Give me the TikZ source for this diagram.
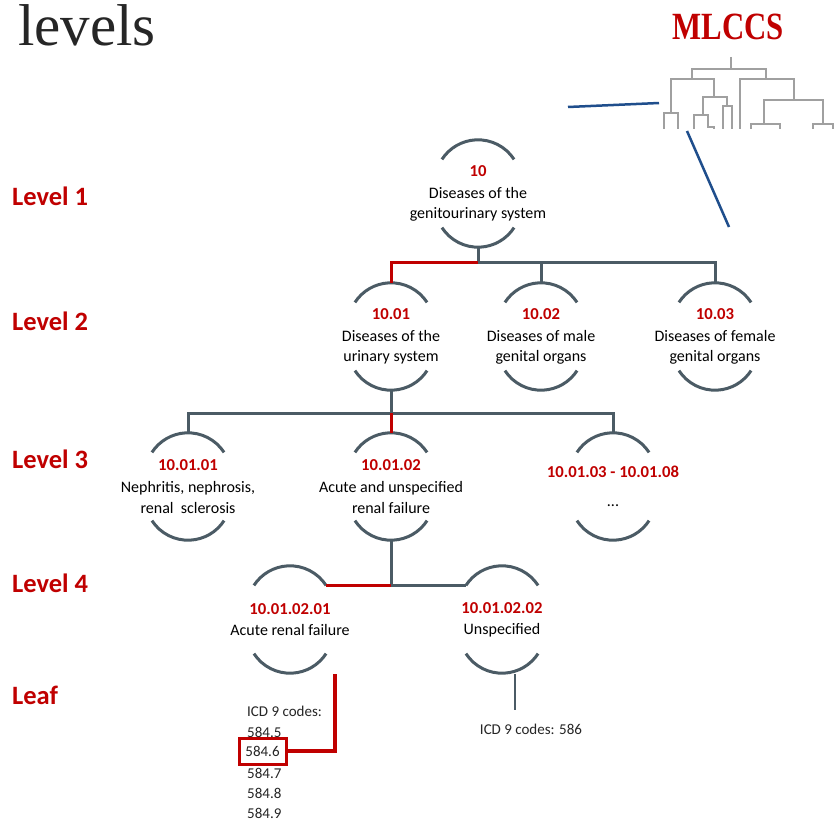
\documentclass[tikz,border=0pt]{standalone}
\usepackage{fontspec}
\setmainfont{Carlito}
\newfontfamily\titleserif{Liberation Serif}
\usetikzlibrary{calc}
\definecolor{myred}{HTML}{C00000}
\definecolor{slate}{HTML}{4B5B65}
\definecolor{dblue}{HTML}{1F4E8C}
\definecolor{dgrey}{HTML}{A0A0A0}
\newcommand\rednum[1]{{\color{myred}\bfseries\fontsize{16.7}{20.5}\selectfont #1}}
\begin{document}
\begin{tikzpicture}[x=1pt,y=1pt,
 cnode/.style={minimum width=72pt,minimum height=107pt,inner sep=0pt,align=center,font=\fontsize{16}{20.5}\selectfont,text=black},
 arcline/.style={draw=slate,line width=3pt},
 gline/.style={draw=slate,line width=3pt},
 rline/.style={draw=myred,line width=3pt},
 levlab/.style={anchor=west,text=myred,font=\bfseries\fontsize{26.5}{26.5}\selectfont,inner sep=0pt},
 leaft/.style={anchor=base west,inner sep=0pt,font=\fontsize{15}{18}\selectfont,text=black!85},
 dendro/.style={draw=dgrey,line width=1.1pt},
 blueline/.style={draw=dblue,line width=2.5pt}]
\useasboundingbox (0,0) rectangle (834,-821);
\fill[white] (0,0) rectangle (834,-821);

% title and MLCCS
\node[anchor=base west,inner sep=0pt,text=black!85,font=\titleserif\fontsize{59}{59}\selectfont] (title) at (18,-46) {levels};
\node[anchor=base,inner sep=0pt,xscale=0.8,text=myred,font=\titleserif\bfseries\fontsize{38.5}{38.5}\selectfont] (mlccs) at (728,-40) {MLCCS};

% dendrogram
\draw[dendro] (731,-57) -- (731,-69);
\draw[dendro] (692,-79) -- (692,-69) -- (766,-69) -- (766,-79);
\draw[dendro] (671,-113) -- (671,-79) -- (714,-79) -- (714,-97);
\draw[dendro] (740,-129) -- (740,-79) -- (794,-79) -- (794,-100);
\draw[dendro] (664,-129) -- (664,-113) -- (678,-113) -- (678,-129);
\draw[dendro] (703,-115) -- (703,-97) -- (727,-97) -- (727,-106);
\draw[dendro] (694,-129) -- (694,-115) -- (708,-115) -- (708,-127) -- (714,-127) -- (714,-129);
\draw[dendro] (723,-129) -- (723,-106) -- (732,-106) -- (732,-129);
\draw[dendro] (764,-124) -- (764,-100) -- (823,-100) -- (823,-124);
\draw[dendro] (751,-129) -- (751,-124) -- (780,-124) -- (780,-129);
\draw[dendro] (813,-129) -- (813,-124) -- (833,-124) -- (833,-129);

% blue pointer lines
\coordinate (bl1a) at (568,-107);
\coordinate (bl1b) at (659,-103);
\coordinate (bl2a) at (687,-131);
\coordinate (bl2b) at (729,-227);
\draw[blueline] (bl1a) -- (bl1b);
\draw[blueline] (bl2a) -- (bl2b);

% level labels
\node[levlab] (lv1) at (12,-196) {Level 1};
\node[levlab] (lv2) at (12,-321) {Level 2};
\node[levlab] (lv3) at (12,-459) {Level 3};
\node[levlab] (lv4) at (12,-583) {Level 4};
\node[levlab] (lvleaf) at (12,-695) {Leaf};

% category nodes
\node[cnode] (n1) at (478,-193.5) {\rednum{10}\\[1.5pt]Diseases of the\\genitourinary system};
\node[cnode] (n101) at (391,-336.5) {\rednum{10.01}\\[1.5pt]Diseases of the\\urinary system};
\node[cnode] (n102) at (541,-336.5) {\rednum{10.02}\\[1.5pt]Diseases of male\\genital organs};
\node[cnode] (n103) at (715,-336.5) {\rednum{10.03}\\[1.5pt]Diseases of female\\genital organs};
\node[cnode] (n10101) at (188,-486.5) {\rednum{10.01.01}\\[1.5pt]Nephritis, nephrosis,\\renal\ \ sclerosis};
\node[cnode] (n10102) at (391,-486.5) {\rednum{10.01.02}\\[1.5pt]Acute and unspecified\\renal failure};
\node[cnode] (n10103) at (613,-486.5) {\rednum{10.01.03 - 10.01.08}\\[8pt]...};
\node[cnode] (n1010201) at (290,-619.5) {\rednum{10.01.02.01}\\[0.5pt]Acute renal failure};
\node[cnode] (n1010202) at (502,-619.5) {\rednum{10.01.02.02}\\[0.5pt]Unspecified};

\foreach \n in {n1,n101,n102,n103,n10101,n10102,n10103,n1010201,n1010202}{
  \draw[arcline] ($(\n.north)+(36.06,-19.58)$) arc[start angle=33,end angle=147,radius=43];
  \draw[arcline] ($(\n.south)+(-36.06,19.58)$) arc[start angle=213,end angle=327,radius=43];
}

% connectors level 1 -> 2
\coordinate (b1) at (478,-262);
\draw[gline] (n1.south) -- (b1);
\draw[gline] (b1) -| (n102.north);
\draw[gline] (b1) -| (n103.north);
\draw[rline] (b1) -| (n101.north);

% level 2 -> 3
\coordinate (b2) at (391,-413);
\draw[gline] (n101.south) -- (b2);
\draw[gline] (b2) -| (n10101.north);
\draw[gline] (b2) -| (n10103.north);
\draw[rline] (b2) -- (n10102.north);

% level 3 -> 4
\coordinate (e4a) at ($(n1010201.north)+(36.06,-19.58)$);
\coordinate (e4b) at ($(n1010202.north)+(-36.06,-19.58)$);
\coordinate (b3) at (n10102.south |- e4a);
\draw[gline] (n10102.south) -- (b3);
\draw[rline] (b3) -- (e4a);
\draw[gline] (b3) -- (e4b);

% leaves
\node[leaft] (icd) at (247,-716.5) {ICD 9 codes:};
\node[leaft] (c5) at (247,-737) {584.5};
\node[draw=myred,line width=3pt,minimum width=47pt,minimum height=26pt,inner sep=0pt,font=\fontsize{15}{18}\selectfont,text=black!85] (box) at (262.5,-751) {584.6};
\node[leaft] (c7) at (247,-778) {584.7};
\node[leaft] (c8) at (247,-798.5) {584.8};
\node[leaft] (c9) at (247,-818) {584.9};
\coordinate (rl) at (335,-674);
\draw[rline,line width=3.3pt] (rl) |- (box.east);

\node[anchor=base,inner sep=0pt,font=\fontsize{15}{18}\selectfont,text=black!85] (leaf586) at (531,-734) {ICD 9 codes: 586};
\coordinate (gl) at ($(n1010202.south)+(13,-1)$);
\draw[draw=slate,line width=2pt] (gl) -- ++(0,-36);
\end{tikzpicture}
\end{document}
